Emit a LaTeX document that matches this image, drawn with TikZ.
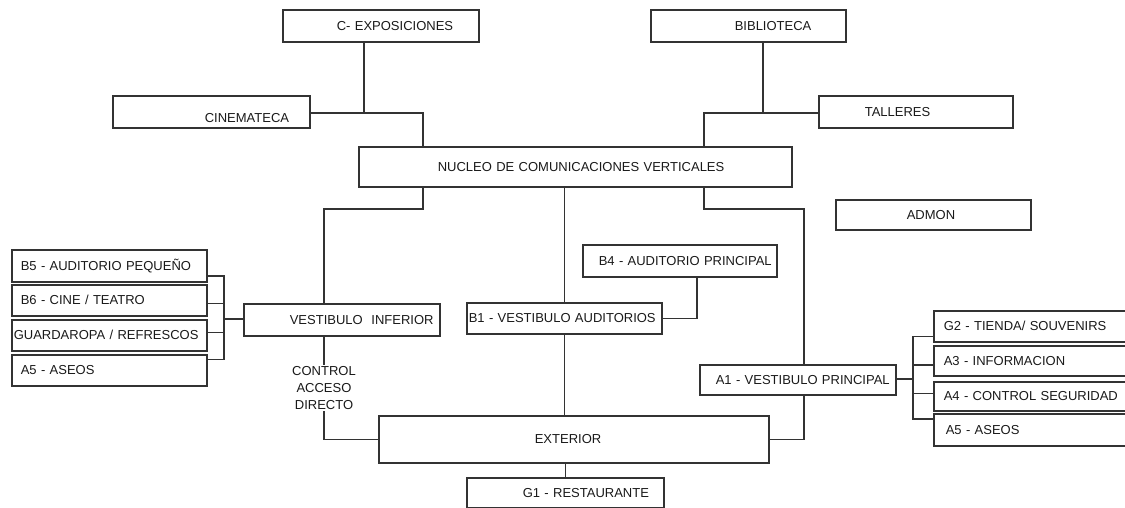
\documentclass[tikz,border=0pt]{standalone}
\usepackage{fontspec}
\setmainfont{Liberation Sans}
\tikzset{room/.style 2 args = {draw=black!80, line width=1.6pt, anchor=north west,
    inner xsep=0pt, inner ysep=0pt, text width=#1, minimum height=#2, align=left,
    text=black!90, font=\fontsize{13}{15}\selectfont}}
\tikzset{link/.style = {draw=black!80, line width=1.5pt}}
\tikzset{note/.style = {fill=white, align=center, inner xsep=1pt, inner ysep=1pt,
    text=black!90, font=\fontsize{13}{17}\selectfont}}

\begin{document}
\begin{tikzpicture}[x=1pt, y=-1pt]
                    \useasboundingbox (0,0) rectangle (1125,508);

                    % upper floor
                    \node[room={196pt}{32pt}] (cexp) at (282,9) {\hspace*{54pt}C- EXPOSICIONES};
                    \node[room={195pt}{32pt}] (bib) at (650,9) {\hspace*{84pt}BIBLIOTECA};
                    \node[room={197pt}{32pt}, text height=21pt, text depth=0pt] (cine) at (112,95) {\hspace*{92pt}CINEMATECA};
                    \node[room={194pt}{32pt}] (tall) at (818,95) {\hspace*{46pt}TALLERES};
                    \node[room={433pt}{40pt}] (nucleo) at (358,146) {\hspace*{79pt}NUCLEO DE COMUNICACIONES VERTICALES};
                    \node[room={195pt}{30pt}] (admon) at (835,199) {\hspace*{71pt}ADMON};

                    % auditorios
                    \node[room={194pt}{32pt}] (b4) at (582,244) {\hspace*{16pt}B4 - AUDITORIO PRINCIPAL};
                    \node[room={195pt}{31pt}] (b1) at (466,302) {\hspace*{2pt}B1 - VESTIBULO AUDITORIOS};
                    \node[room={196pt}{32pt}] (vinf) at (243,303) {\hspace*{46pt}VESTIBULO\ \ INFERIOR};

                    \node[room={195pt}{32pt}] (b5) at (11,249) {\hspace*{9pt}B5 - AUDITORIO PEQUEÑO};
                    \node[room={195pt}{31pt}] (b6) at (11,284) {\hspace*{9pt}B6 - CINE / TEATRO};
                    \node[room={195pt}{31pt}] (guard) at (11,319) {\hspace*{2pt}GUARDAROPA / REFRESCOS};
                    \node[room={195pt}{31pt}] (a5l) at (11,354) {\hspace*{9pt}A5 - ASEOS};

                    % acceso principal
                    \node[room={196pt}{30pt}] (a1) at (699,364) {\hspace*{16pt}A1 - VESTIBULO PRINCIPAL};
                    \node[room={197pt}{31pt}] (g2) at (933,310) {\hspace*{10pt}G2 - TIENDA/ SOUVENIRS};
                    \node[room={197pt}{30pt}] (a3) at (933,345) {\hspace*{10pt}A3 - INFORMACION};
                    \node[room={197pt}{29pt}] (a4) at (933,381) {\hspace*{10pt}A4 - CONTROL SEGURIDAD};
                    \node[room={197pt}{32pt}] (a5r) at (933,413) {\hspace*{12pt}A5 - ASEOS};

                    \node[room={390pt}{47pt}] (ext) at (378,415) {\hspace*{156pt}EXTERIOR};
                    \node[room={197pt}{30pt}] (g1) at (466,477) {\hspace*{56pt}G1 - RESTAURANTE};

                    % turning points
                    \coordinate (c1) at (364,113);
                    \coordinate (c2) at (423,146);
                    \coordinate (c3) at (763,113);
                    \coordinate (c4) at (704,146);
                    \coordinate (c6) at (324,209);
                    \coordinate (c7) at (804,209);
                    \coordinate (c9) at (697,0);
                    \coordinate (cl) at (224,319);
                    \coordinate (cr) at (913,379);

                    \draw[link] (cexp.south -| c1) -- (c1);
                    \draw[link] (cine.east |- c1) -| (c2);
                    \draw[link] (bib.south -| c3) -- (c3);
                    \draw[link] (tall.west |- c3) -| (c4);

                    \draw[link] (nucleo.south -| c2) |- (c6) -- (c6 |- vinf.north);
                    \draw[link] (nucleo.south -| c4) |- (c7) -- (c7 |- a1.north);
                    \draw[link] (c7 |- a1.south) |- (ext.east);
                    \draw[link] (nucleo.south -| b1.north) -- (b1.north);
                    \draw[link] (b1.south) -- (b1.south |- ext.north);
                    \draw[link] (ext.south -| g1.north) -- (g1.north);
                    \draw[link] (b4.south -| c9) |- (b1.east);

                    \draw[link] (vinf.south -| c6) -- node[note] {CONTROL\\ACCESO\\DIRECTO} (c6 |- ext.west) -- (ext.west);

                    \draw[link] (cl) -- (cl -| vinf.west);
                    \draw[link] ([yshift=-10pt]b5.east) -| (cl);
                    \draw[link] ([yshift=-3pt]b6.east) -| (cl);
                    \draw[link] ([yshift=3pt]guard.east) -| (cl);
                    \draw[link] ([yshift=11pt]a5l.east) -| (cl);

                    \draw[link] (cr) -- (cr -| a1.east);
                    \draw[link] ([yshift=-10pt]g2.west) -| (cr);
                    \draw[link] ([yshift=-4pt]a3.west) -| (cr);
                    \draw[link] ([yshift=3pt]a4.west) -| (cr);
                    \draw[link] ([yshift=11pt]a5r.west) -| (cr);
                \end{tikzpicture}
\end{document}
